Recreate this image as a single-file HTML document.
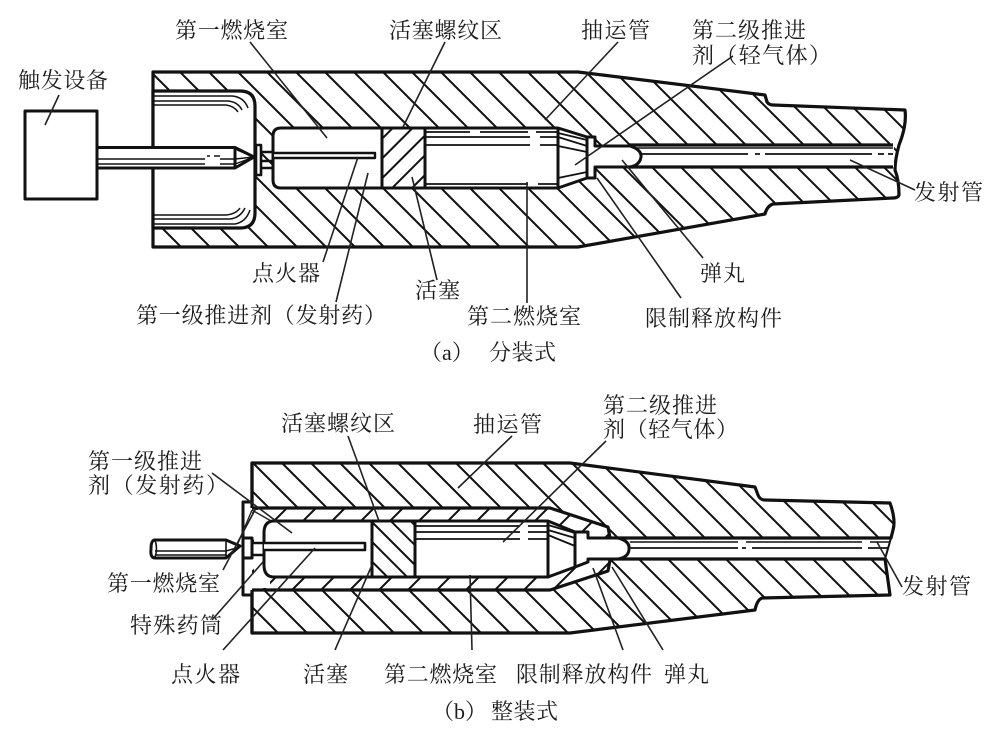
<!DOCTYPE html>
<html><head><meta charset="utf-8">
<style>
html,body{margin:0;padding:0;background:#fff;width:1000px;height:738px;overflow:hidden}
svg{display:block}
text{font-family:"Liberation Serif","Noto Serif CJK SC",serif;font-size:22px;fill:#1c1c1c}
</style></head><body>
<svg width="1000" height="738" viewBox="0 0 1000 738" xmlns="http://www.w3.org/2000/svg">
<defs>
<pattern id="h1" width="20.5" height="20.5" patternUnits="userSpaceOnUse" patternTransform="translate(137,0) rotate(45)"><rect width="20.5" height="20.5" fill="#fff"/><path d="M0 0H20.5M0 20.5H20.5" stroke="#111" stroke-width="2"/></pattern>
<pattern id="h2" width="20.5" height="20.5" patternUnits="userSpaceOnUse" patternTransform="translate(-181,0) rotate(45)"><rect width="20.5" height="20.5" fill="#fff"/><path d="M0 0H20.5M0 20.5H20.5" stroke="#111" stroke-width="2"/></pattern>
<pattern id="p1" width="14" height="14" patternUnits="userSpaceOnUse" patternTransform="translate(402,0) rotate(-45)"><rect width="14" height="14" fill="#fff"/><path d="M0 0H14M0 14H14" stroke="#111" stroke-width="2"/></pattern>
<pattern id="p2" width="14" height="14" patternUnits="userSpaceOnUse" patternTransform="translate(-150,0) rotate(45)"><rect width="14" height="14" fill="#fff"/><path d="M0 0H14M0 14H14" stroke="#111" stroke-width="2"/></pattern>
<pattern id="s2" width="20.5" height="20.5" patternUnits="userSpaceOnUse" patternTransform="translate(795,0) rotate(-45)"><rect width="20.5" height="20.5" fill="#fff"/><path d="M0 0H20.5M0 20.5H20.5" stroke="#111" stroke-width="2"/></pattern>
</defs>

<!-- TOP DIAGRAM -->
<g stroke="#111" fill="none" stroke-linejoin="round">
<path d="M153 72H578L765 95L767 102Q769 105 773 105L905 110Q907 125 899 145Q895 160 895 170Q899 180 899 195Q898 198 893 198L773 204Q767 206 765 214L578 247H153Z" fill="url(#h1)" stroke-width="3.2"/>
<rect x="630" y="146" width="264" height="21" fill="#fff" stroke="none"/>
<path d="M153 91H240Q255 91 255 106V213Q255 228 240 228H153Z" fill="#fff" stroke-width="3.2"/>
<path d="M153 96H232Q244 97 248 108M153 101H228Q238 102 242 110M153 105H226Q234 106 238 112M153 215H226Q236 214 240 208M153 219H230Q240 218 245 208M153 224H235Q246 222 250 210" stroke-width="1.5"/>
<path d="M25 111H97V199H25Z" fill="#fff" stroke-width="3"/>
<path d="M97 147.5H235L254 157L235 168H97Z" fill="#fff" stroke-width="3"/>
<path d="M235 147V168" stroke-width="3"/>
<path d="M97 159H205M220 159H235L254 157M97 164H205M220 164H235L254 157M237 150L254 157" stroke-width="1.4"/>
<path d="M207 156H210M214 156H220" stroke-width="1.4"/>
<path d="M256 145H261V175H256Z" fill="#fff" stroke-width="2.6"/>
<path d="M261 152H274M261 168H274M261 161H274" stroke-width="2.4"/>
<path d="M281 128H382V188H281Q273 188 273 180V136Q273 128 281 128Z" fill="#fff" stroke-width="3"/>
<path d="M274 153H375V158H274" fill="#fff" stroke-width="2.4"/>
<rect x="382" y="128" width="43" height="60" fill="url(#p1)" stroke-width="3"/>
<path d="M425 128H558L587 137V178L558 188H425Z" fill="#fff" stroke-width="3"/>
<path d="M558 128V188" stroke-width="3"/>
<path d="M587 137H595V146H630Q642 150 641 157Q640 165 630 167H595V178H587Z" fill="#fff" stroke-width="3"/>
<path d="M425 132H470M480 132H528M536 132H558M425 137H530M540 137H558M425 145H530M540 145H558M425 184H528M538 184H558M558 133L587 140M558 137L587 146M558 146L587 152M558 178L587 172" stroke-width="1.8"/>
<path d="M628 145H893M628 167H893" stroke-width="3.2"/>
<path d="M634 148H893" stroke-width="1.4"/>
<path d="M640 154H748M755 154H760M765 154H872M878 154H884M888 154H893" stroke-width="1.8"/>
<!-- top leaders -->
<g stroke="#222" stroke-width="1.6">
<path d="M59 95L45 125M250 42L327 138M445 42L403 127M618 42L545 120M733 56L575 165M915 190L850 160M703 258L622 160M681 298L597 178M527 182V303M358 157L323 262M368 173L336 302M412 177L437 280"/>
</g>
</g>

<!-- BOTTOM DIAGRAM -->
<g stroke="#111" fill="none" stroke-linejoin="round">
<path d="M252 463H570L755 487L758 495Q760 500 765 500L890 503Q896 520 893 530L891 538H252Z" fill="url(#h2)" stroke-width="3.2"/>
<path d="M885 559L890 595L762 598Q757 600 755 610L570 633H252V559Z" fill="url(#h2)" stroke-width="3.2"/>
<path d="M891 538L885 559" stroke-width="2"/>
<!-- sleeve -->
<path d="M252 508H550L608 527L610 537V563L608 571L550 590H252Z" fill="url(#s2)" stroke="none"/>
<path d="M252 508H550L608 527L610 538M252 590H550L608 571L610 560" stroke-width="3.2"/>
<path d="M254 510H270V520H264V578H270V588H254Z" fill="#fff" stroke="none"/>
<path d="M252 502H243V595H252" fill="#fff" stroke-width="3"/>
<path d="M252 463V508M252 590V633" stroke-width="3.2"/>
<path d="M252 510L236 548M252 510L292 533" stroke="#222" stroke-width="1.4"/>
<path d="M274 521H372V577H274Q264 577 264 565V533Q264 521 274 521Z" fill="#fff" stroke-width="3"/>
<rect x="372" y="521" width="43" height="56" fill="url(#p2)" stroke-width="3"/>
<path d="M415 521H548L575 532V567L548 577H415Z" fill="#fff" stroke-width="3"/>
<path d="M548 521V577" stroke-width="3"/>
<path d="M575 532H588V538H618Q630 541 629 549Q629 557 618 559H588V562L575 567Z" fill="#fff" stroke-width="3"/>
<path d="M415 526H520M528 526H548M415 532H520M528 532H548M415 539H520M528 539H548M548 525L575 533M548 530L575 538M548 535L575 546" stroke-width="1.8"/>
<path d="M622 538H891M622 559H885" stroke-width="3"/>
<path d="M630 542H738M746 542H862M870 542H890" stroke-width="1.4"/>
<path d="M630 548H738M742 548H746M752 548H862M868 548H888" stroke-width="1.8"/>
<path d="M243 538H252V558H243Z" fill="#fff" stroke-width="3"/>
<path d="M252 543H264M252 555H264" stroke-width="2.6"/>
<path d="M264 543H365V550H264" fill="#fff" stroke-width="2.6"/>
<path d="M155 540H226L240 546L226 558H155Q150 558 151 549Q151 540 155 540Z" fill="#fff" stroke-width="3"/>
<path d="M155 540Q158 549 155 557M155 551H226L240 547M155 555H226M226 540V558" stroke-width="1.6"/>
<!-- bottom leaders -->
<g stroke="#222" stroke-width="1.6">
<path d="M606 441L503 542M348 436L379 521M512 436L458 488M212 473L292 533M223 570L256 508M212 620L263 562M223 650L315 548M335 650L372 565M472 650L470 575M623 650L593 568M663 650L612 567M902 587L877 542"/>
</g>
</g>

<!-- TEXT -->
<g>
<text x="18" y="88" textLength="90" lengthAdjust="spacing">触发设备</text>
<text x="175" y="38" textLength="113" lengthAdjust="spacing">第一燃烧室</text>
<text x="389" y="38" textLength="113" lengthAdjust="spacing">活塞螺纹区</text>
<text x="581" y="38" textLength="69" lengthAdjust="spacing">抽运管</text>
<text x="692" y="38" textLength="114" lengthAdjust="spacing">第二级推进</text>
<text x="692" y="63" textLength="139" lengthAdjust="spacing">剂（轻气体）</text>
<text x="914" y="200" textLength="69" lengthAdjust="spacing">发射管</text>
<text x="700" y="281" textLength="45" lengthAdjust="spacing">弹丸</text>
<text x="645" y="326" textLength="137" lengthAdjust="spacing">限制释放构件</text>
<text x="252" y="281" textLength="68" lengthAdjust="spacing">点火器</text>
<text x="415" y="298" textLength="45" lengthAdjust="spacing">活塞</text>
<text x="136" y="323" textLength="250" lengthAdjust="spacing">第一级推进剂（发射药）</text>
<text x="467" y="324" textLength="114" lengthAdjust="spacing">第二燃烧室</text>
<text x="420" y="360">（a）</text>
<text x="489" y="360" textLength="67" lengthAdjust="spacing">分装式</text>
<text x="432" y="719">（b）</text>
<text x="491" y="719" textLength="67" lengthAdjust="spacing">整装式</text>
<text x="603" y="413" textLength="114" lengthAdjust="spacing">第二级推进</text>
<text x="603" y="437" textLength="135" lengthAdjust="spacing">剂（轻气体）</text>
<text x="281" y="431" textLength="114" lengthAdjust="spacing">活塞螺纹区</text>
<text x="473" y="432" textLength="69" lengthAdjust="spacing">抽运管</text>
<text x="88" y="469" textLength="114" lengthAdjust="spacing">第一级推进</text>
<text x="88" y="493" textLength="140" lengthAdjust="spacing">剂（发射药）</text>
<text x="902" y="594" textLength="69" lengthAdjust="spacing">发射管</text>
<text x="107" y="591" textLength="113" lengthAdjust="spacing">第一燃烧室</text>
<text x="130" y="633" textLength="92" lengthAdjust="spacing">特殊药筒</text>
<text x="171" y="682" textLength="69" lengthAdjust="spacing">点火器</text>
<text x="303" y="682" textLength="45" lengthAdjust="spacing">活塞</text>
<text x="384" y="682" textLength="113" lengthAdjust="spacing">第二燃烧室</text>
<text x="516" y="682" textLength="136" lengthAdjust="spacing">限制释放构件</text>
<text x="664" y="682" textLength="45" lengthAdjust="spacing">弹丸</text>
</g>
</svg>
</body></html>
